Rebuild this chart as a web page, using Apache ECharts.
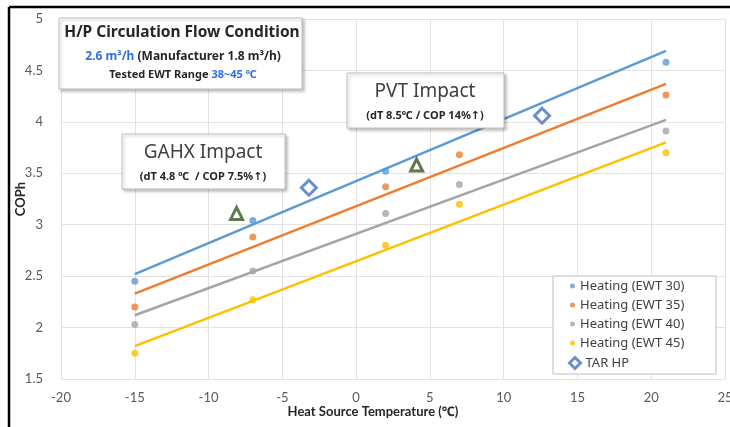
<!DOCTYPE html>
<html>
<head>
<meta charset="utf-8">
<script src="https://cdn.jsdelivr.net/npm/echarts@6/dist/echarts.min.js"></script>
<style>
html,body{margin:0;padding:0;background:#fff;}
#c{width:730px;height:427px;}
</style>
</head>
<body>
<div id="c"></div>
<script>
// ---- data ----
var tempX = [-15, -7, 2, 7, 21];
var ewt30 = [2.45, 3.04, 3.52, null, 4.58];
var ewt35 = [2.20, 2.88, 3.37, 3.68, 4.26];
var ewt40 = [2.03, 2.55, 3.11, 3.39, 3.91];
var ewt45 = [1.75, 2.27, 2.80, 3.20, 3.70];
var trendX = [-15, 21];
var trend30 = [2.52, 4.69];
var trend35 = [2.33, 4.37];
var trend40 = [2.12, 4.02];
var trend45 = [1.82, 3.80];
var tarX = [-3.2, 12.6];
var tarY = [3.36, 4.06];
var impactX = [-8.1, 4.1];
var impactY = [3.11, 3.58];
var seriesNames = ['Heating (EWT 30)', 'Heating (EWT 35)', 'Heating (EWT 40)', 'Heating (EWT 45)'];
var xTicks = [-20, -15, -10, -5, 0, 5, 10, 15, 20, 25];
var yTicks = [1.5, 2, 2.5, 3, 3.5, 4, 4.5, 5];

var colors = ['#5B9BD5', '#ED7D31', '#A5A5A5', '#FFC000'];
var pts = [ewt30, ewt35, ewt40, ewt45];
var trends = [trend30, trend35, trend40, trend45];

function zip(xs, ys) {
  var out = [];
  xs.forEach(function (x, i) { if (ys[i] !== null) out.push([x, ys[i]]); });
  return out;
}

var series = [];
pts.forEach(function (p, i) {
  series.push({
    name: seriesNames[i], type: 'scatter', data: zip(tempX, p),
    symbol: 'circle', symbolSize: 7, itemStyle: { color: colors[i] }, z: 2
  });
});
trends.forEach(function (t, i) {
  series.push({
    name: 'trend' + i, type: 'line', data: zip(trendX, t),
    showSymbol: false, symbol: 'none', lineStyle: { color: colors[i], width: 2.5 }, z: 3
  });
});
series.push({
  name: 'TAR HP', type: 'scatter', data: zip(tarX, tarY), symbol: 'diamond', symbolSize: 15,
  itemStyle: { color: '#ffffff', borderColor: '#4472C4', borderWidth: 3 }, z: 4
});
series.push({
  name: 'Impact', type: 'scatter', data: zip(impactX, impactY), symbol: 'triangle', symbolSize: 12,
  itemStyle: { color: '#ffffff', borderColor: '#375623', borderWidth: 3 }, z: 4
});

var labelFont = 'Lato, "Noto Sans", sans-serif';
var boxFont = '"Noto Sans", "DejaVu Sans", sans-serif';
var blue = '#2F6FE0';

var shadow = { shadowBlur: 3, shadowOffsetX: 2, shadowOffsetY: 2, shadowColor: 'rgba(0,0,0,0.25)' };
function box(x, y, w, h) {
  return { type: 'rect', z: 10, shape: { x: x, y: y, width: w, height: h },
    style: Object.assign({ fill: '#fff', stroke: '#BFBFBF', lineWidth: 1 }, shadow) };
}
function txt(x, y, text, font, fill, rich) {
  var s = { text: text, x: x, y: y, align: 'center', verticalAlign: 'middle', font: font, fill: fill || '#262626' };
  if (rich) s.rich = rich;
  return { type: 'text', z: 11, style: s };
}

var chart = echarts.init(document.getElementById('c'));
chart.setOption({
  animation: false,
  backgroundColor: '#fff',
  grid: { left: 61, right: 5, top: 19, bottom: 48, containLabel: false, outerBoundsMode: 'none' },
  xAxis: {
    type: 'value', min: xTicks[0], max: xTicks[xTicks.length - 1], interval: 5,
    name: 'Heat Source Temperature (\u2103)', nameLocation: 'middle', nameGap: 26, nameMoveOverlap: false,
    nameTextStyle: { fontFamily: labelFont, fontSize: 13, fontWeight: 'bold', color: '#262626', padding: [0, 40, 0, 0] },
    axisLine: { show: false }, axisTick: { show: false },
    axisLabel: { fontFamily: labelFont, fontSize: 13, color: '#595959', margin: 12 },
    splitLine: { show: true, lineStyle: { color: '#E3E3E3', width: 1 } }
  },
  yAxis: {
    type: 'value', min: yTicks[0], max: yTicks[yTicks.length - 1], interval: 0.5,
    name: 'COPh', nameLocation: 'middle', nameGap: 34, nameRotate: 90, nameMoveOverlap: false,
    nameTextStyle: { fontFamily: labelFont, fontSize: 13, fontWeight: 'bold', color: '#262626' },
    axisLine: { show: false }, axisTick: { show: false },
    axisLabel: { fontFamily: labelFont, fontSize: 13, color: '#595959', margin: 18 },
    splitLine: { show: true, lineStyle: { color: '#E3E3E3', width: 1 } }
  },
  legend: [
    {
      data: seriesNames.map(function (n, i) { return { name: n, icon: 'circle', itemStyle: { color: colors[i] } }; }),
      orient: 'vertical', left: 570, top: 279, padding: 0, itemWidth: 5, itemHeight: 5, itemGap: 5,
      textStyle: { fontFamily: boxFont, fontSize: 13, color: '#404040', lineHeight: 14 }, z: 12
    },
    {
      data: [{ name: 'TAR HP', icon: 'diamond', itemStyle: { color: '#fff', borderColor: '#4472C4', borderWidth: 3 } }],
      orient: 'vertical', left: 568, top: 356, padding: 0, itemWidth: 11, itemHeight: 11,
      textStyle: { fontFamily: boxFont, fontSize: 13, color: '#404040', lineHeight: 14 }, z: 12
    }
  ],
  graphic: [
    { type: 'line', z: 20, shape: { x1: 9, y1: 7, x2: 730, y2: 7 }, style: { stroke: '#000', lineWidth: 2.5 } },
    { type: 'line', z: 20, shape: { x1: 9, y1: 7, x2: 9, y2: 427 }, style: { stroke: '#000', lineWidth: 2.5 } },
    box(59, 18, 243, 71),
    txt(182, 33, 'H/P Circulation Flow Condition', 'bold 15.5px ' + boxFont, '#262626'),
    txt(183, 57, '{b|2.6 m\u00b3/h} {k|(Manufacturer 1.8 m\u00b3/h)}', 'bold 12px ' + boxFont, '#262626',
      { b: { fill: blue, font: 'bold 12px ' + boxFont }, k: { fill: '#262626', font: 'bold 12px ' + boxFont } }),
    txt(183, 75, '{k|Tested EWT Range }{b|38~45 \u2103}', 'bold 11px ' + boxFont, '#262626',
      { b: { fill: blue, font: 'bold 11px ' + boxFont }, k: { fill: '#262626', font: 'bold 11px ' + boxFont } }),
    box(122, 134, 163, 55),
    txt(203, 153, 'GAHX Impact', '19px ' + boxFont, '#404040'),
    txt(203, 177, '(dT 4.8 \u2103  / COP 7.5%\u2191)', 'bold 11px ' + boxFont, '#262626'),
    box(347, 73, 157, 55),
    txt(425, 92, 'PVT Impact', '19px ' + boxFont, '#404040'),
    txt(425, 116, '(dT 8.5\u2103 / COP 14%\u2191)', 'bold 11px ' + boxFont, '#262626'),
    { type: 'rect', z: 10, shape: { x: 553, y: 276, width: 163, height: 98 }, style: { fill: '#fff', stroke: '#BFBFBF', lineWidth: 1 } }
  ],
  series: series
});
</script>
</body>
</html>
